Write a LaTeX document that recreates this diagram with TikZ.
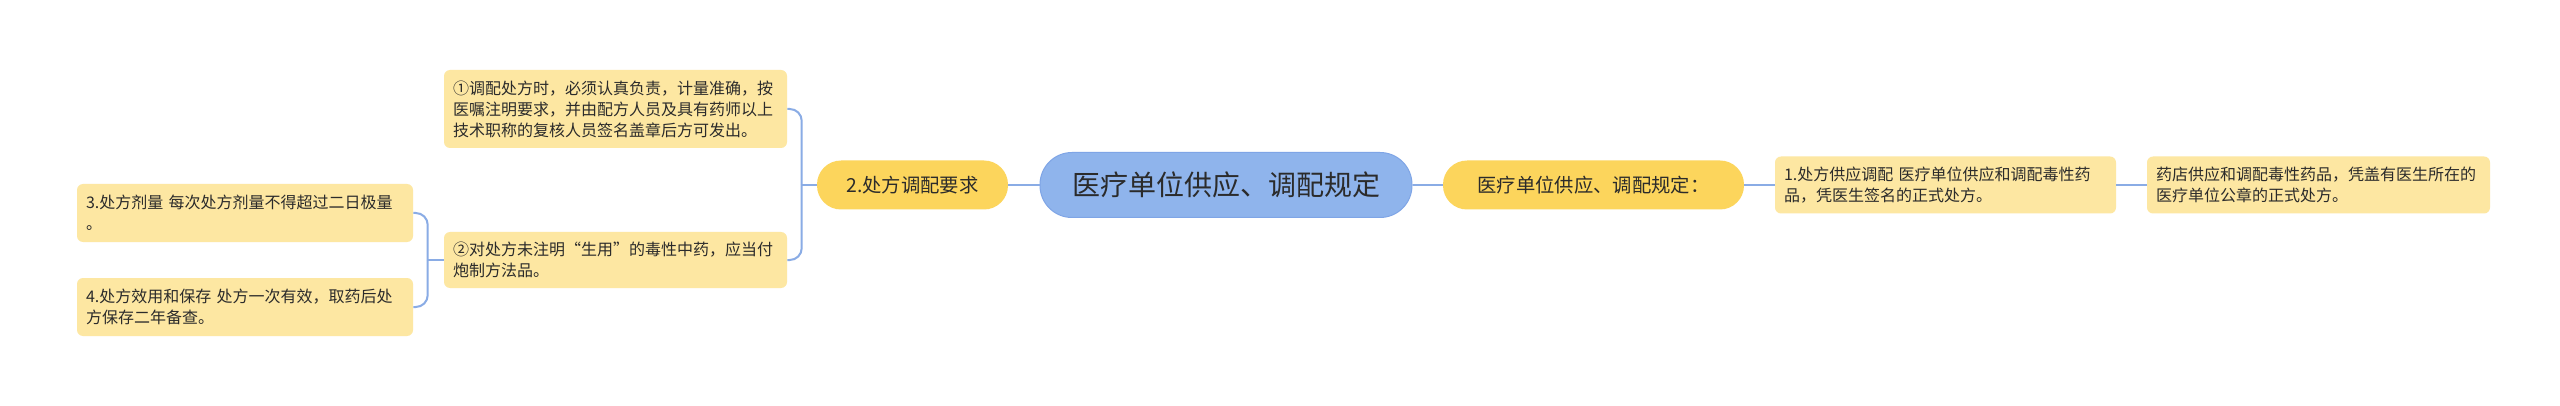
\documentclass[tikz,border=0pt]{standalone}
\usepackage{fontspec}
\setmainfont{Noto Sans CJK SC}
\usepackage{tikz}
\usetikzlibrary{positioning}
\definecolor{rootblue}{HTML}{8FB4EC}
\definecolor{rootedge}{HTML}{7FA5E6}
\definecolor{topicyellow}{HTML}{FCD55C}
\definecolor{leafyellow}{HTML}{FDE7A2}
\definecolor{linkblue}{HTML}{8AACE5}
\definecolor{inktext}{HTML}{2B2B2B}

\begin{document}
\begin{tikzpicture}[x=0.75pt, y=-0.75pt,
  root/.style={fill=rootblue, draw=rootedge, line width=0.75pt, rounded corners=24pt,
    minimum width=279pt, minimum height=48.75pt, font=\fontsize{21pt}{25pt}\selectfont, text=inktext},
  topic/.style={fill=topicyellow, rounded corners=18pt, minimum height=36.75pt,
    font=\fontsize{14.5pt}{18pt}\selectfont, text=inktext},
  leaf/.style={fill=leafyellow, rounded corners=4.5pt, inner xsep=6.75pt, align=left,
    font=\fontsize{12pt}{15.75pt}\selectfont, text=inktext},
  link/.style={draw=linkblue, line width=1.5pt}]
  % canvas
  \fill[white] (0,0) rectangle (2560,406);
  \useasboundingbox (0,0) rectangle (2560,406);
  % central topic
  \node[root] (root) at (1226,185) {医疗单位供应、调配规定};
  % main branches
  \node[topic, minimum width=143.25pt] (req) at (912.5,185) {2.处方调配要求};
  \node[topic, minimum width=225.75pt] (rule) at (1593.5,185) {医疗单位供应、调配规定：};
  % right side details
  \node[leaf, text width=242.25pt, minimum height=42.75pt] (supply) at (1945.5,185)
    {1.处方供应调配 医疗单位供应和调配毒性药\\品，凭医生签名的正式处方。};
  \node[leaf, text width=243.75pt, minimum height=42.75pt] (shop) at (2318.5,185)
    {药店供应和调配毒性药品，凭盖有医生所在的\\医疗单位公章的正式处方。};
  % left side details
  \node[leaf, text width=243.75pt, minimum height=58.5pt] (check) at (615.5,109)
    {①调配处方时，必须认真负责，计量准确，按\\医嘱注明要求，并由配方人员及具有药师以上\\技术职称的复核人员签名盖章后方可发出。};
  \node[leaf, text width=243.75pt, minimum height=42pt] (raw) at (615.5,260)
    {②对处方未注明“生用”的毒性中药，应当付\\炮制方法品。};
  \node[leaf, text width=238.5pt, minimum height=43.5pt] (dose) at (245,213)
    {3.处方剂量 每次处方剂量不得超过二日极量\\。};
  \node[leaf, text width=238.5pt, minimum height=43.5pt] (keep) at (245,307)
    {4.处方效用和保存 处方一次有效，取药后处\\方保存二年备查。};
  % straight links
  \draw[link] (root.west) -- (req.east);
  \draw[link] (root.east) -- (rule.west);
  \draw[link] (rule.east) -- (supply.west);
  \draw[link] (supply.east) -- (shop.west);
  % bracket to the two rules
  \path (req.west) ++(-15,0) coordinate (reqfork);
  \draw[link] (req.west) -- (reqfork);
  \draw[link, rounded corners=9pt] (reqfork) |- (check.east);
  \draw[link, rounded corners=9pt] (reqfork) |- (raw.east);
  % bracket to dose and keeping
  \path (raw.west) ++(-16,0) coordinate (rawfork);
  \draw[link] (raw.west) -- (rawfork);
  \draw[link, rounded corners=9pt] (rawfork) |- (dose.east);
  \draw[link, rounded corners=9pt] (rawfork) |- (keep.east);
\end{tikzpicture}
\end{document}
